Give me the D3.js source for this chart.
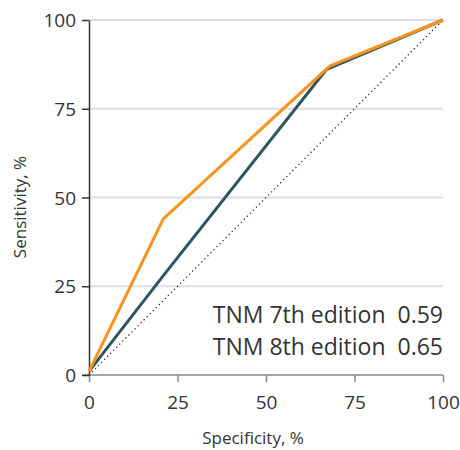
<!DOCTYPE html>
<html>
<head>
<meta charset="utf-8">
<script src="https://cdn.jsdelivr.net/npm/d3@7"></script>
<style>
  body { margin: 0; background: #fff; }
  text { font-family: "Open Sans", sans-serif; fill: #333; }
</style>
</head>
<body>
<script>
var w = 460;
var h = 450;

// ROC points, [specificity, sensitivity] in %
var spec7 = [0, 21, 67, 100];
var sens7 = [1, 28, 86, 100];
var spec8 = [0, 21, 68, 100];
var sens8 = [1, 44, 87, 100];
var ticks = [0, 25, 50, 75, 100];
var legendNames = ["TNM 7th edition", "TNM 8th edition"];
var legendAuc = ["0.59", "0.65"];

var svg = d3.select("body")
    .append("svg")
    .attr("width", w)
    .attr("height", h);

var xScale = d3.scaleLinear().domain([0, 100]).range([89, 443]);
var yScale = d3.scaleLinear().domain([0, 100]).range([375, 20]);

// grid
svg.append("g")
    .selectAll("line")
    .data(ticks.slice(1))
    .join("line")
    .attr("x1", xScale(0))
    .attr("x2", xScale(100))
    .attr("y1", d => yScale(d))
    .attr("y2", d => yScale(d))
    .attr("stroke", "#dedede")
    .attr("stroke-width", 2);

var xAxis = d3.axisBottom(xScale).tickValues(ticks).tickSize(7).tickSizeOuter(0);
var yAxis = d3.axisLeft(yScale).tickValues(ticks).tickSize(7).tickSizeOuter(0);

var gx = svg.append("g")
    .attr("transform", "translate(0," + yScale(0) + ")")
    .call(xAxis);
gx.select(".domain").attr("stroke", "#888").attr("stroke-width", 1.5)
    .attr("d", "M" + (xScale(0) - 7) + ",0H" + xScale(100));
gx.selectAll(".tick line").attr("stroke", "#888").attr("stroke-width", 1.5);
gx.selectAll(".tick text")
    .attr("font-size", "19px")
    .attr("font-family", "Open Sans, sans-serif")
    .attr("fill", "#333")
    .attr("dy", "0")
    .attr("y", 34);

var gy = svg.append("g")
    .attr("transform", "translate(" + xScale(0) + ",0)")
    .call(yAxis);
gy.select(".domain").attr("stroke", "#333").attr("stroke-width", 1.5);
gy.selectAll(".tick line").attr("stroke", "#333").attr("stroke-width", 1.5);
gy.selectAll(".tick text")
    .attr("font-size", "19px")
    .attr("font-family", "Open Sans, sans-serif")
    .attr("fill", "#333")
    .attr("x", -13)
    .attr("dy", "0.35em");

// diagonal reference
svg.append("line")
    .attr("x1", xScale(0)).attr("y1", yScale(0))
    .attr("x2", xScale(100)).attr("y2", yScale(100))
    .attr("stroke", "#333")
    .attr("stroke-width", 1.3)
    .attr("stroke-dasharray", "1.3,3");

var line = d3.line()
    .x(d => xScale(d[0]))
    .y(d => yScale(d[1]));

svg.append("path")
    .datum(d3.zip(spec7, sens7))
    .attr("d", line)
    .attr("fill", "none")
    .attr("stroke", "#2d5562")
    .attr("stroke-width", 3);

svg.append("path")
    .datum(d3.zip(spec8, sens8))
    .attr("d", line)
    .attr("fill", "none")
    .attr("stroke", "#f7931e")
    .attr("stroke-width", 3);

// legend text
var leg = svg.append("g");
legendNames.forEach(function (name, i) {
    var y = 323 + i * 32;
    leg.append("text")
        .attr("x", 443)
        .attr("y", y)
        .attr("text-anchor", "end")
        .attr("font-size", "23px")
        .text(name + "\u00a0\u00a0" + legendAuc[i]);
});

svg.append("text")
    .attr("x", (xScale(0) + xScale(100)) / 2 - 13)
    .attr("y", 444)
    .attr("text-anchor", "middle")
    .attr("font-size", "17px")
    .text("Specificity, %");

svg.append("text")
    .attr("transform", "translate(26,207) rotate(-90)")
    .attr("text-anchor", "middle")
    .attr("font-size", "17px")
    .text("Sensitivity, %");
</script>
</body>
</html>
